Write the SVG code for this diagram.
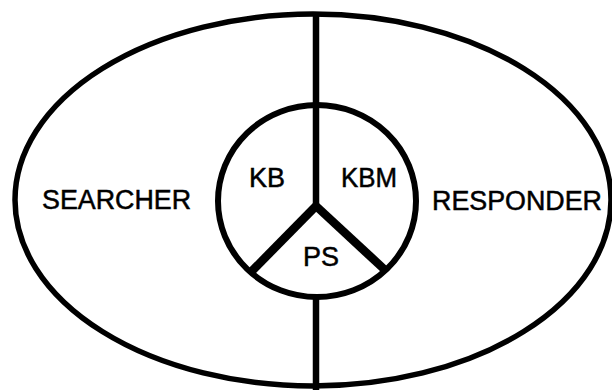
<svg xmlns="http://www.w3.org/2000/svg" width="612" height="390" viewBox="0 0 612 390">
  <style>
    .outline { fill: none; stroke: #000; }
    .label { font-family: "Liberation Sans", Arial, Helvetica, sans-serif; font-size: 27px; fill: #000; stroke: #000; stroke-width: 0.5px; }
  </style>
  <rect width="612" height="390" fill="#fff"/>
  <g id="outer">
    <ellipse class="outline" cx="313" cy="200" rx="298" ry="186" stroke-width="5.5"/>
    <text class="label" x="42" y="209" textLength="149" lengthAdjust="spacingAndGlyphs">SEARCHER</text>
    <text class="label" x="432" y="210" textLength="170" lengthAdjust="spacingAndGlyphs">RESPONDER</text>
  </g>
  <g id="inner">
    <ellipse class="outline" cx="317" cy="201" rx="99" ry="96" stroke-width="6"/>
    <text class="label" x="249" y="187" textLength="36" lengthAdjust="spacingAndGlyphs">KB</text>
    <text class="label" x="341" y="187" textLength="56" lengthAdjust="spacingAndGlyphs">KBM</text>
    <text class="label" x="303" y="266" textLength="36" lengthAdjust="spacingAndGlyphs">PS</text>
  </g>
  <g id="connectors" stroke="#000" fill="none" stroke-linecap="butt">
    <line x1="316" y1="12" x2="316" y2="207" stroke-width="6.5"/>
    <line x1="316" y1="296" x2="316" y2="390" stroke-width="6.5"/>
    <line x1="316" y1="206" x2="251" y2="272" stroke-width="8.5"/>
    <line x1="316" y1="206" x2="385" y2="270" stroke-width="8.5"/>
  </g>
</svg>
